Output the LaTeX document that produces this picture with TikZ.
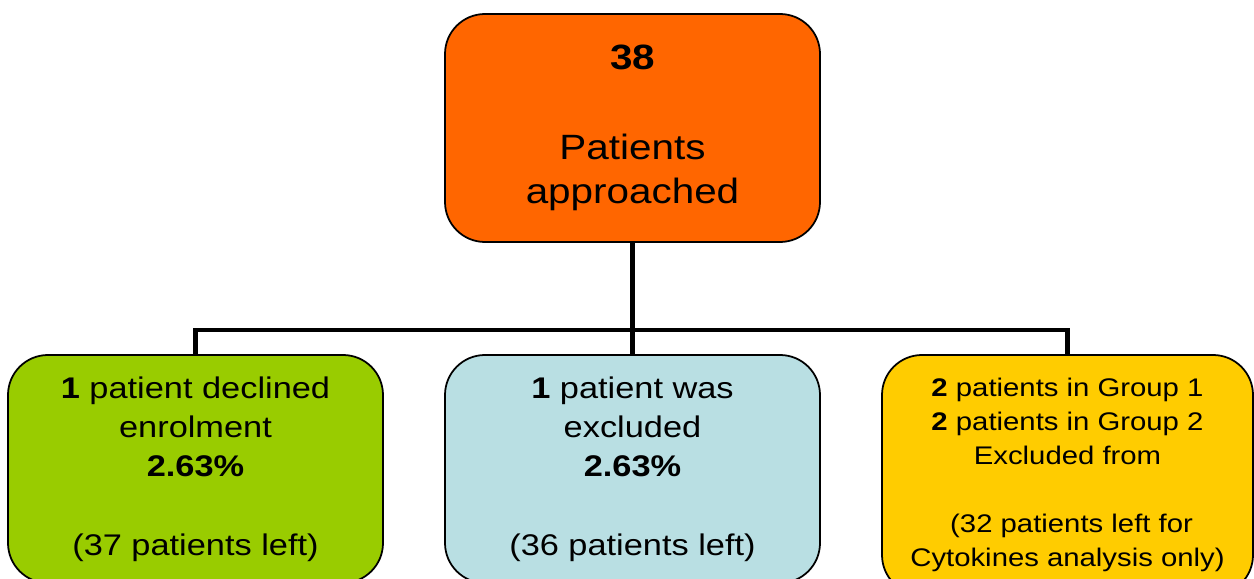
\documentclass[tikz,border=0pt]{standalone}
\usepackage{fontspec}
\setmainfont[FakeStretch=1.15]{Liberation Sans}
\usetikzlibrary{positioning, calc}
\definecolor{approachorange}{HTML}{FF6600}
\definecolor{declinegreen}{HTML}{99CC00}
\definecolor{excludeblue}{HTML}{B9DFE3}
\definecolor{cytoyellow}{HTML}{FFCC00}
\tikzstyle{stage} = [draw=black, line width=1pt, rounded corners=0.8cm, minimum width=7.5cm, minimum height=4.56cm, align=center, inner sep=0pt]
\tikzstyle{link} = [line width=2.8pt]

\begin{document}
\begin{tikzpicture}[node distance=8.74cm]
      \clip (0,0) rectangle (25.08,-11.58);
      \node (top) [stage, fill=approachorange, font=\fontsize{20}{25}\selectfont] at (12.65,-2.56) {\textbf{38}\\[26pt]Patients\\approached};
      \node (excluded) [stage, fill=excludeblue, below of=top, node distance=6.82cm, font=\fontsize{17}{22.3}\selectfont] {\textbf{1} patient was\\excluded\\\textbf{2.63\%}\\[22.3pt](36 patients left)};
      \node (declined) [stage, fill=declinegreen, left of=excluded, font=\fontsize{17}{22.3}\selectfont] {\textbf{1} patient declined\\enrolment\\\textbf{2.63\%}\\[22.3pt](37 patients left)};
      \node (cyto) [stage, fill=cytoyellow, right of=excluded, xshift=-0.04cm, yshift=-0.12cm, minimum width=7.42cm, minimum height=4.8cm, font=\fontsize{14.5}{19.3}\selectfont] {\textbf{2} patients in Group 1\\\textbf{2} patients in Group 2\\Excluded from\\[19.3pt]\ (32 patients left for\\Cytokines analysis only)};
      \coordinate (bar) at (12.65,-6.6);
      \draw [link] (top.south) -- (top.south |- bar);
      \draw [link] (declined.north) |- (bar) -| (cyto.north);
      \draw [link] (excluded.north) -- (excluded.north |- bar);
\end{tikzpicture}
\end{document}
